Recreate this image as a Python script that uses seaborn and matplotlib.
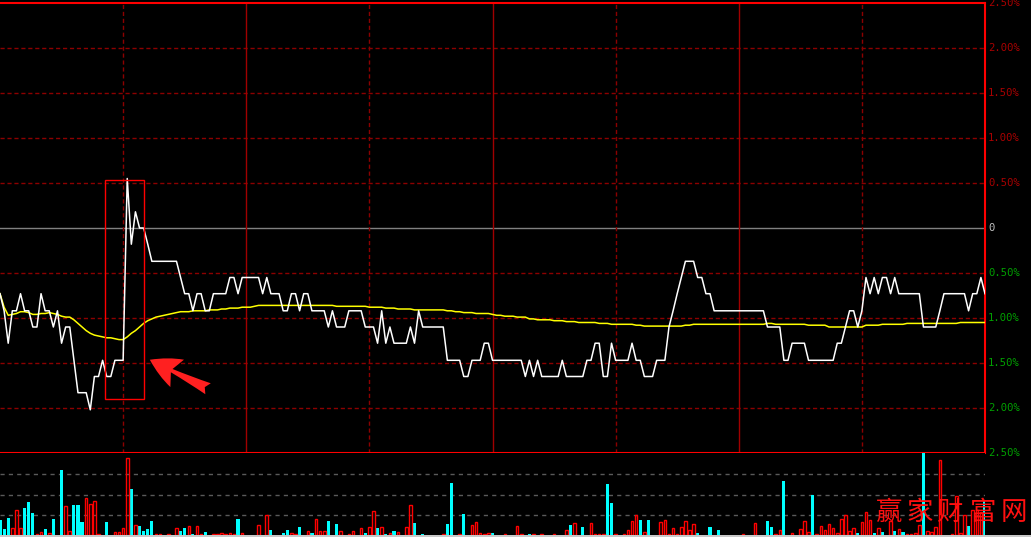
import matplotlib
matplotlib.use("Agg")
import matplotlib.pyplot as plt
import matplotlib.patches as mpatches
import matplotlib.transforms as mtransforms
import seaborn as sns
import pandas as pd
import numpy as np

# ---------------- data (percent change vs. previous close) ----------------
price_pct = [
    -0.73, -0.92, -1.28, -0.92, -0.92, -0.73, -0.92, -0.92, -1.10, -1.10,
    -0.73, -0.92, -0.92, -1.10, -0.92, -1.28, -1.10, -1.10, -1.47, -1.83,
    -1.83, -1.83, -2.02, -1.65, -1.65, -1.47, -1.65, -1.65, -1.47, -1.47,
    -1.47, 0.55, -0.18, 0.18, 0.00, 0.00, -0.18, -0.37, -0.37, -0.37,
    -0.37, -0.37, -0.37, -0.37, -0.55, -0.73, -0.73, -0.92, -0.73, -0.73,
    -0.92, -0.92, -0.73, -0.73, -0.73, -0.73, -0.55, -0.55, -0.73, -0.55,
    -0.55, -0.55, -0.55, -0.55, -0.73, -0.55, -0.73, -0.73, -0.73, -0.92,
    -0.92, -0.73, -0.73, -0.92, -0.73, -0.73, -0.92, -0.92, -0.92, -0.92,
    -1.10, -0.92, -1.10, -1.10, -1.10, -0.92, -0.92, -0.92, -0.92, -1.10,
    -1.10, -1.10, -1.28, -0.92, -1.28, -1.10, -1.28, -1.28, -1.28, -1.28,
    -1.10, -1.28, -0.92, -1.10, -1.10, -1.10, -1.10, -1.10, -1.10, -1.47,
    -1.47, -1.47, -1.47, -1.65, -1.65, -1.47, -1.47, -1.47, -1.28, -1.28,
    -1.47, -1.47, -1.47, -1.47, -1.47, -1.47, -1.47, -1.47, -1.65, -1.47,
    -1.65, -1.47, -1.65, -1.65, -1.65, -1.65, -1.65, -1.47, -1.65, -1.65,
    -1.65, -1.65, -1.65, -1.47, -1.47, -1.28, -1.28, -1.65, -1.65, -1.28,
    -1.47, -1.47, -1.47, -1.47, -1.28, -1.47, -1.47, -1.65, -1.65, -1.65,
    -1.47, -1.47, -1.47, -1.10, -0.92, -0.73, -0.55, -0.37, -0.37, -0.37,
    -0.55, -0.55, -0.73, -0.73, -0.92, -0.92, -0.92, -0.92, -0.92, -0.92,
    -0.92, -0.92, -0.92, -0.92, -0.92, -0.92, -0.92, -1.10, -1.10, -1.10,
    -1.10, -1.47, -1.47, -1.28, -1.28, -1.28, -1.28, -1.47, -1.47, -1.47,
    -1.47, -1.47, -1.47, -1.47, -1.28, -1.28, -1.10, -0.92, -0.92, -1.10,
    -0.92, -0.55, -0.73, -0.55, -0.73, -0.55, -0.55, -0.73, -0.55, -0.73,
    -0.73, -0.73, -0.73, -0.73, -0.73, -1.10, -1.10, -1.10, -1.10, -0.92,
    -0.73, -0.73, -0.73, -0.73, -0.73, -0.73, -0.92, -0.73, -0.73, -0.55,
    -0.73,
]

avg_pct = [
    -0.73, -0.88, -0.97, -0.96, -0.95, -0.93, -0.93, -0.94, -0.96, -0.96,
    -0.95, -0.95, -0.94, -0.95, -0.96, -0.98, -0.99, -0.99, -1.02, -1.06,
    -1.10, -1.14, -1.17, -1.19, -1.20, -1.21, -1.22, -1.22, -1.23, -1.24,
    -1.24, -1.21, -1.17, -1.14, -1.10, -1.06, -1.03, -1.01, -0.99, -0.98,
    -0.97, -0.96, -0.95, -0.94, -0.93, -0.93, -0.93, -0.92, -0.92, -0.92,
    -0.92, -0.91, -0.91, -0.91, -0.90, -0.90, -0.89, -0.89, -0.89, -0.88,
    -0.88, -0.88, -0.87, -0.86, -0.86, -0.86, -0.86, -0.86, -0.86, -0.86,
    -0.86, -0.86, -0.86, -0.86, -0.86, -0.86, -0.86, -0.86, -0.86, -0.86,
    -0.86, -0.86, -0.87, -0.87, -0.87, -0.87, -0.87, -0.87, -0.87, -0.87,
    -0.88, -0.88, -0.88, -0.88, -0.89, -0.89, -0.89, -0.90, -0.90, -0.90,
    -0.90, -0.91, -0.91, -0.91, -0.91, -0.91, -0.91, -0.91, -0.91, -0.92,
    -0.92, -0.93, -0.93, -0.94, -0.94, -0.94, -0.95, -0.95, -0.95, -0.95,
    -0.96, -0.97, -0.97, -0.98, -0.98, -0.98, -0.99, -0.99, -0.99, -1.01,
    -1.01, -1.02, -1.02, -1.02, -1.02, -1.03, -1.03, -1.03, -1.04, -1.04,
    -1.04, -1.05, -1.05, -1.05, -1.05, -1.05, -1.06, -1.06, -1.06, -1.07,
    -1.07, -1.07, -1.07, -1.07, -1.07, -1.08, -1.08, -1.09, -1.09, -1.09,
    -1.09, -1.09, -1.09, -1.09, -1.09, -1.09, -1.09, -1.08, -1.08, -1.07,
    -1.07, -1.07, -1.07, -1.07, -1.07, -1.07, -1.07, -1.07, -1.07, -1.07,
    -1.07, -1.07, -1.07, -1.07, -1.07, -1.07, -1.07, -1.06, -1.06, -1.07,
    -1.07, -1.07, -1.07, -1.07, -1.07, -1.07, -1.07, -1.08, -1.08, -1.08,
    -1.08, -1.08, -1.10, -1.10, -1.10, -1.10, -1.10, -1.10, -1.10, -1.10,
    -1.10, -1.08, -1.08, -1.08, -1.08, -1.07, -1.07, -1.07, -1.07, -1.07,
    -1.07, -1.06, -1.06, -1.06, -1.06, -1.06, -1.06, -1.06, -1.06, -1.06,
    -1.06, -1.06, -1.06, -1.06, -1.05, -1.05, -1.05, -1.05, -1.05, -1.05,
    -1.05,
]

volume = [
    15, 6, 17, 7, 25, 7, 27, 33, 22, 1,
    3, 6, 2, 16, 0, 64, 29, 4, 30, 30,
    13, 37, 31, 34, 1, 0, 13, 0, 3, 3,
    7, 76, 45, 10, 9, 4, 6, 14, 1, 1,
    0, 1, 0, 7, 4, 7, 9, 1, 9, 1,
    3, 0, 1, 1, 2, 1, 2, 1, 16, 2,
    0, 0, 0, 10, 0, 20, 5, 0, 0, 2,
    5, 2, 1, 8, 0, 4, 2, 16, 4, 4,
    14, 0, 11, 4, 0, 1, 4, 0, 7, 2,
    8, 24, 7, 8, 1, 2, 4, 3, 0, 8,
    30, 12, 0, 1, 0, 0, 0, 0, 1, 11,
    51, 0, 1, 21, 0, 10, 13, 2, 1, 2,
    2, 0, 0, 1, 0, 0, 9, 1, 0, 1,
    1, 0, 1, 0, 0, 1, 0, 0, 5, 10,
    12, 0, 8, 0, 12, 1, 1, 1, 50, 32,
    1, 0, 1, 5, 14, 20, 15, 3, 15, 0,
    0, 13, 15, 1, 7, 1, 8, 14, 5, 11,
    2, 0, 0, 8, 0, 5, 0, 0, 0, 0,
    0, 1, 0, 0, 12, 0, 0, 14, 8, 1,
    5, 53, 0, 2, 0, 6, 14, 3, 40, 1,
    9, 5, 11, 7, 2, 16, 20, 4, 7, 2,
    13, 23, 15, 2, 7, 3, 0, 14, 4, 6,
    3, 1, 1, 2, 10, 81, 4, 3, 8, 74,
    0, 0, 1, 39, 2, 20, 9, 25, 25, 23,
    35,
]

# 'r' = red hollow bar (up), 'c' = cyan filled bar (down)
vol_dir = list(
    "cccrrrcccr" "rcrcrcrrcc" "crrrrrcrrr" "rrcrccccrr" "rrrrccrcrr"
    "crrrrrrrcr" "rrrrrrcrrc" "crrcrrcrrr" "crcrrrrrrc" "rrcrcrcrrr"
    "rcrcrrrrrc" "crrcrrrrrr" "crrrrrrrrc" "rrrrrrrrrc" "rrcrrrrrcc"
    "rrrrrrcrcr" "rrrrrrrrrr" "crrcrcrrrr" "rrrrrrrccr" "rcrrrrrrcr"
    "rrrrrrrrrc" "rrrcrcrrcr" "crrrrcrrrr" "rrrrrrcrrr" "c"
)

right_levels = [2.5, 2.0, 1.5, 1.0, 0.5, 0.0, -0.5, -1.0, -1.5, -2.0, -2.5]
right_labels = ["2.50%", "2.00%", "1.50%", "1.00%", "0.50%", "0",
                "0.50%", "1.00%", "1.50%", "2.00%", "2.50%"]
watermark_chars = ["赢", "家", "财", "富", "网"]

# ---------------- figure ----------------
W, H = 1031, 537
fig = plt.figure(figsize=(W / 100, H / 100), dpi=100, facecolor="black")

def fx(px):
    return px / W

def fy(py):
    return 1 - py / H

ax = fig.add_axes([0, fy(453), fx(985), (453 - 3) / H])
axv = fig.add_axes([0, fy(535), fx(985), (535 - 453) / H])
for a in (ax, axv):
    a.set_facecolor("black")
    a.set_xticks([])
    a.set_yticks([])

minutes = np.arange(len(price_pct))
df = pd.DataFrame({"minute": minutes, "price": price_pct, "avg": avg_pct,
                   "vol": volume, "dir": vol_dir})

# grid lines
dark_red = "#8c0000"
for lv in [2.0, 1.5, 1.0, 0.5, -0.5, -1.0, -1.5, -2.0]:
    ax.axhline(lv, color=dark_red, lw=1.0, ls=(0, (3, 2)), zorder=1)
ax.axhline(0, color="#808080", lw=1.0, zorder=1)
for xv in [30, 90, 150, 210]:
    ax.axvline(xv, color=dark_red, lw=1.0, ls=(0, (3, 2)), zorder=1)
for xv in [60, 120, 180]:
    ax.axvline(xv, color="#a00000", lw=1.0, zorder=1)

sns.lineplot(data=df, x="minute", y="avg", ax=ax, color="#ffff00",
             lw=1.1, estimator=None, sort=False, zorder=3)
sns.lineplot(data=df, x="minute", y="price", ax=ax, color="white",
             lw=1.1, estimator=None, sort=False, zorder=4)

ax.set_xlim(0, 240)
ax.set_ylim(-2.5, 2.5)
ax.set_xlabel("")
ax.set_ylabel("")
ax.spines["left"].set_visible(False)
for side in ["top", "right", "bottom"]:
    ax.spines[side].set_color("#ff0000")
    ax.spines[side].set_linewidth(1.5)

# right-hand labels
trans = mtransforms.blended_transform_factory(ax.transAxes, ax.transData)
for lv, lab in zip(right_levels, right_labels):
    col = "#a80000" if lv > 0 else ("#c0c0c0" if lv == 0 else "#00a000")
    ax.text(1.003, lv, lab, transform=trans, color=col, fontsize=7.6,
            family="DejaVu Sans Mono", va="center", ha="left", clip_on=False)

# annotation box and arrow
rect = mpatches.Rectangle((25.6, -1.90), 9.5, 2.43, fill=False,
                          edgecolor="#ff0000", lw=1.0, zorder=5)
ax.add_patch(rect)
ax.annotate("", xy=(35.9, -1.45), xytext=(51.3, -1.80),
            arrowprops=dict(arrowstyle="fancy,head_length=1.0,head_width=1.0,tail_width=0.4",
                            color="#ff2020", mutation_scale=22, lw=0),
            zorder=6)

# volume panel
for lv in [20, 40, 60]:
    axv.axhline(lv, color="#5a5a5a", lw=1.0, ls=(0, (3, 3)), zorder=1)
dn = df[(df["dir"] == "c") & (df["vol"] > 0)]
up = df[(df["dir"] == "r") & (df["vol"] > 0)]
sns.barplot(data=dn, x="minute", y="vol", ax=axv, native_scale=True,
            color="#00ffff", width=0.78, errorbar=None, saturation=1,
            linewidth=0, zorder=3)
sns.barplot(data=up, x="minute", y="vol", ax=axv, native_scale=True,
            color="#ff0000", width=0.62, errorbar=None, saturation=1,
            fill=False, linewidth=1.0, zorder=3)
axv.set_xlim(0, 240)
axv.set_ylim(0, 81)
axv.set_xticks([])
axv.set_yticks([])
axv.set_xlabel("")
axv.set_ylabel("")
for s in axv.spines.values():
    s.set_visible(False)

# bottom light border
fig.patches.append(mpatches.Rectangle((0, 0), 1, 2 / H, transform=fig.transFigure,
                                      facecolor="#c8c8c8", edgecolor="none"))

# watermark
for cx, ch in zip([889, 920, 949, 983, 1014], watermark_chars):
    fig.text(fx(cx), fy(512), ch, color="#ff1010", fontsize=19,
             family=["Noto Sans CJK SC", "DejaVu Sans"], ha="center", va="center",
             fontweight="light", zorder=10)

fig.savefig("out.png", dpi=100, facecolor="black")
